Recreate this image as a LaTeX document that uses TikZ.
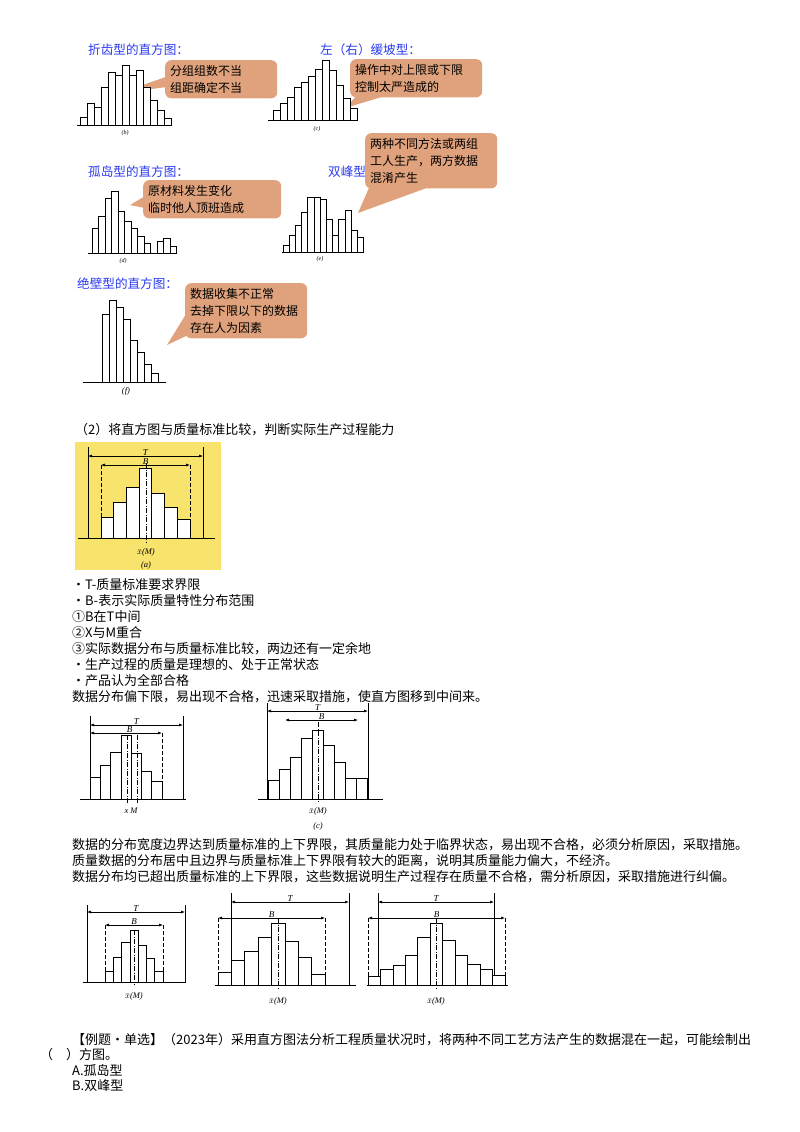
\documentclass[tikz,border=0pt]{standalone}
\usepackage{fontspec}
\setmainfont{Liberation Serif}
\newfontfamily\cjk{Noto Sans CJK SC}
\usetikzlibrary{arrows.meta,calc,positioning,backgrounds}
\definecolor{calloutfill}{HTML}{E0A27C}
\definecolor{headblue}{HTML}{2B3BF0}
\definecolor{paneyellow}{HTML}{F8E36C}
\tikzset{
  txt/.style={anchor=west,inner sep=0pt,font=\cjk\fontsize{13}{14}\selectfont},
  head/.style={txt,text=headblue,font=\cjk\fontsize{12.6}{14}\selectfont},
  callout/.style={anchor=north west,fill=calloutfill,rounded corners=6pt,inner sep=5pt,
    align=left,font=\cjk\fontsize{12}{17}\selectfont},
  lbl/.style={inner sep=0pt,font=\itshape\fontsize{8.5}{9}\selectfont},
  dimlbl/.style={inner sep=0pt,above=0pt,font=\itshape\fontsize{9}{9}\selectfont},
  bar/.style={draw,line width=0.8pt,fill=white},
  dim/.style={{Latex[length=4pt]}-{Latex[length=4pt]},line width=0.6pt},
  lim/.style={line width=0.8pt},
  blim/.style={line width=0.7pt,dash pattern=on 4pt off 2pt},
  axis/.style={line width=1pt},
  mid/.style={line width=0.6pt,dash pattern=on 5pt off 1.5pt on 1pt off 1.5pt}
}
% bars: start x, base y, width, heights
\newcommand\hbars[4]{\foreach \h [count=\i from 0] in {#4}
  \draw[bar] ({#1+\i*#3},#2) rectangle ++(#3,-\h);}
\newcommand\tail[4]{\begin{scope}[on background layer]
  \fill[calloutfill] (#1) -- (#2) -- (#3) -- (#4) -- cycle;\end{scope}}
\begin{document}
\begin{tikzpicture}[x=1pt,y=-1pt]
  \begin{scope}[on background layer]
    \fill[white] (0,0) rectangle (800,1132);
  \end{scope}
  \useasboundingbox (0,0) rectangle (800,1132);

  % type histograms
  \node[head] (hb) at (88,50) {折齿型的直方图：};
  \draw[axis] (77,125) -- (172,125);
  \hbars{80}{125}{7}{8,22,18,38,53,50,60,50,55,38,25,15,7}
  \node[lbl,font=\itshape\fontsize{6}{6}\selectfont] (cb) at (125,133) {(b)};
  \node[callout,text width=102pt] (nb) at (165,60) {分组组数不当\\组距确定不当};
  \tail{$(nb.west)+(0,-2)$}{120,93}{$(nb.west)+(0,8)$}{$(nb.west)+(5,8)$}

  \node[head] (hc) at (320,50) {左（右）缓坡型：};
  \draw[axis] (268,120) -- (357,120);
  \hbars{273}{120}{7}{10,17,23,33,38,44,51,60,50,35,22,12}
  \node[lbl,font=\itshape\fontsize{6}{6}\selectfont] (cc) at (317,129) {(c)};
  \node[callout,text width=122pt] (nc) at (350,59) {操作中对上限或下限\\控制太严造成的};
  \tail{$(nc.south west)+(10,-5)$}{345,108}{$(nc.south west)+(30,0)$}{$(nc.south west)+(30,-5)$}

  \node[head] (hd) at (88,172) {孤岛型的直方图：};
  \draw[axis] (88,253) -- (174,253);
  \hbars{92}{253}{6.5}{25,37,55,62,42,32,25,17,10,0,12,15,7}
  \node[lbl,font=\itshape\fontsize{6}{6}\selectfont] (cd) at (123,261) {(d)};
  \node[callout,text width=128pt] (nd) at (143,180) {原材料发生变化\\临时他人顶班造成};
  \tail{$(nd.west)+(0,-2)$}{130,205}{$(nd.west)+(8,10)$}{$(nd.west)+(10,0)$}

  \node[head] (he) at (328,172) {双峰型};
  \draw[axis] (282,252) -- (364,252);
  \hbars{283}{252}{6.2}{7,17,27,40,55,55,53,33,17,33,42,22,15}
  \node[lbl,font=\itshape\fontsize{6}{6}\selectfont] (ce) at (320,259) {(e)};
  \node[callout,text width=122pt] (ne) at (365,133) {两种不同方法或两组\\工人生产，两方数据\\混淆产生};
  \tail{$(ne.south west)+(5,-3)$}{358,213}{$(ne.south west)+(60,0)$}{$(ne.south west)+(60,-8)$}

  \node[head] (hf) at (77,284) {绝壁型的直方图：};
  \draw[axis] (83,382) -- (166,382);
  \hbars{102}{382}{7}{68,82,75,63,42,30,18,9}
  \node[lbl] (cf) at (126,391) {(f)};
  \node[callout,text width=112pt] (nf) at (185,283) {数据收集不正常\\去掉下限以下的数据\\存在人为因素};
  \tail{$(nf.west)+(0,5)$}{167,345}{$(nf.west)+(12,20)$}{$(nf.west)+(12,5)$}

  % standard comparison
  \node[txt] (s2) at (75,430) {（2）将直方图与质量标准比较，判断实际生产过程能力};
  \fill[paneyellow] (75,442) rectangle (221,570);
  \draw[axis] (78,538) -- (215,538);
  \draw[lim] (88,447) -- (88,538) (203,447) -- (203,538);
  \draw[blim] (101,465) -- (101,520) (190,465) -- (190,520);
  \hbars{101}{538}{12.7}{21,36,51,70,45,31,19}
  \coordinate (aT1) at (88,456); \coordinate (aT2) at (203,456);
  \coordinate (aB1) at (101,465); \coordinate (aB2) at (190,465);
  \draw[dim] (aT1) -- node[dimlbl] {T} (aT2);
  \draw[dim] (aB1) -- node[dimlbl] {B} (aB2);
  \draw[mid] (146,463) -- (146,542);
  \node[lbl] (xa) at (146,552) {$\bar{x}$(M)};
  \node[lbl] (la) at (146,565) {(a)};

  \node[txt] (t1) at (72,585) {·T-质量标准要求界限};
  \node[txt] (t2) at (72,601) {·B-表示实际质量特性分布范围};
  \node[txt] (t3) at (72,617) {①B在T中间};
  \node[txt] (t4) at (72,633) {②X与M重合};
  \node[txt] (t5) at (72,649) {③实际数据分布与质量标准比较，两边还有一定余地};
  \node[txt] (t6) at (72,665) {·生产过程的质量是理想的、处于正常状态};
  \node[txt] (t7) at (72,681) {·产品认为全部合格};
  \node[txt] (t8) at (72,697) {数据分布偏下限，易出现不合格，迅速采取措施，使直方图移到中间来。};

  % shifted / centred
  \draw[axis] (80,799) -- (186,799);
  \draw[lim] (90,716) -- (90,799) (183,716) -- (183,799);
  \draw[blim] (162,733) -- (162,799);
  \hbars{90}{799}{10.3}{22,34,47,64,46,28,18}
  \coordinate (lT1) at (90,725); \coordinate (lT2) at (183,725);
  \coordinate (lB1) at (90,733); \coordinate (lB2) at (162,733);
  \draw[dim] (lT1) -- node[dimlbl] {T} (lT2);
  \draw[dim] (lB1) -- node[dimlbl,pos=0.55] {B} (lB2);
  \draw[mid] (127,735) -- (127,803) (137,735) -- (137,803);
  \node[lbl] (xl) at (131,811) {x M};

  \draw[axis] (258,799) -- (383,799);
  \draw[lim] (267,703) -- (267,799) (368,703) -- (368,799);
  \hbars{268}{799}{11}{19,30,42,61,69,54,37,21,21}
  \coordinate (rT1) at (267,711); \coordinate (rT2) at (368,711);
  \coordinate (rB1) at (285,720); \coordinate (rB2) at (358,720);
  \draw[dim] (rT1) -- node[dimlbl] {T} (rT2);
  \draw[dim] (rB1) -- node[dimlbl] {B} (rB2);
  \draw[mid] (318,722) -- (318,803);
  \node[lbl] (xr) at (318,811) {$\bar{x}$(M)};
  \node[lbl] (lr) at (318,826) {(c)};

  \node[txt] (u1) at (72,845) {数据的分布宽度边界达到质量标准的上下界限，其质量能力处于临界状态，易出现不合格，必须分析原因，采取措施。};
  \node[txt] (u2) at (72,861) {质量数据的分布居中且边界与质量标准上下界限有较大的距离，说明其质量能力偏大，不经济。};
  \node[txt] (u3) at (72,877) {数据分布均已超出质量标准的上下界限，这些数据说明生产过程存在质量不合格，需分析原因，采取措施进行纠偏。};

  % bottom three
  \draw[axis] (83,982) -- (186,982);
  \draw[lim] (87,905) -- (87,982) (185,905) -- (185,982);
  \draw[blim] (105,925) -- (105,982) (163,925) -- (163,982);
  \hbars{105}{982}{8.3}{11,25,40,52,37,24,11}
  \coordinate (pT1) at (87,912); \coordinate (pT2) at (185,912);
  \coordinate (pB1) at (105,925); \coordinate (pB2) at (163,925);
  \draw[dim] (pT1) -- node[dimlbl] {T} (pT2);
  \draw[dim] (pB1) -- node[dimlbl] {B} (pB2);
  \draw[mid] (134,930) -- (134,985);
  \node[lbl] (xp) at (134,996) {$\bar{x}$(M)};

  \draw[axis] (215,985) -- (356,985);
  \draw[lim] (231,893) -- (231,985) (349,893) -- (349,985);
  \draw[blim] (218,918) -- (218,985) (325,918) -- (325,985);
  \hbars{218}{985}{13.4}{13,25,34,48,62,44,28,11}
  \coordinate (qT1) at (231,902); \coordinate (qT2) at (349,902);
  \coordinate (qB1) at (218,918); \coordinate (qB2) at (325,918);
  \draw[dim] (qT1) -- node[dimlbl] {T} (qT2);
  \draw[dim] (qB1) -- node[dimlbl] {B} (qB2);
  \draw[mid] (278,918) -- (278,988);
  \node[lbl] (xq) at (278,1001) {$\bar{x}$(M)};

  \draw[axis] (367,985) -- (508,985);
  \draw[lim] (378,893) -- (378,985) (494,893) -- (494,985);
  \draw[blim] (368,918) -- (368,985) (505,918) -- (505,985);
  \hbars{368}{985}{12.45}{9,16,20,30,48,62,45,30,21,16,10}
  \coordinate (wT1) at (378,902); \coordinate (wT2) at (494,902);
  \coordinate (wB1) at (368,918); \coordinate (wB2) at (505,918);
  \draw[dim] (wT1) -- node[dimlbl] {T} (wT2);
  \draw[dim] (wB1) -- node[dimlbl] {B} (wB2);
  \draw[mid] (436,918) -- (436,988);
  \node[lbl] (xw) at (436,1001) {$\bar{x}$(M)};

  % exercise
  \node[txt] (e1) at (72,1040) {【例题·单选】（2023年）采用直方图法分析工程质量状况时，将两种不同工艺方法产生的数据混在一起，可能绘制出};
  \node[txt] (e2) at (40,1055) {（　）方图。};
  \node[txt] (e3) at (72,1070) {A.孤岛型};
  \node[txt] (e4) at (72,1086) {B.双峰型};
\end{tikzpicture}
\end{document}
